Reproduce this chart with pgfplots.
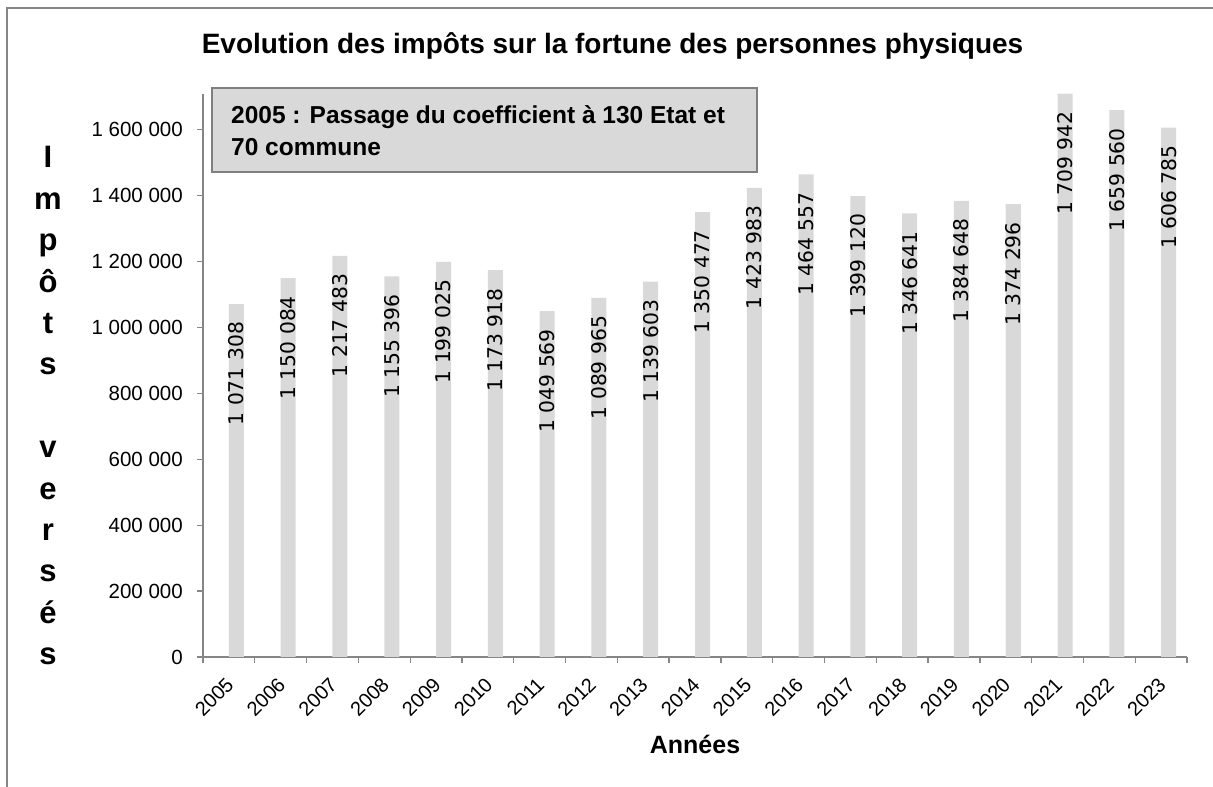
\documentclass[border=0pt]{standalone}
\usepackage{pgfplots}
\pgfplotsset{compat=1.18}
\usepackage{pgfplotstable}
\usepackage{fontspec}
\setmainfont{Liberation Sans}
\newfontfamily\dejavu{DejaVu Sans}
\definecolor{axisgray}{HTML}{868686}
\definecolor{bargray}{HTML}{D9D9D9}
\definecolor{boxborder}{HTML}{7F7F7F}

\pgfplotstableread[col sep=comma]{
x,y,lab
0,1071308,1 071 308
1,1150084,1 150 084
2,1217483,1 217 483
3,1155396,1 155 396
4,1199025,1 199 025
5,1173918,1 173 918
6,1049569,1 049 569
7,1089965,1 089 965
8,1139603,1 139 603
9,1350477,1 350 477
10,1423983,1 423 983
11,1464557,1 464 557
12,1399120,1 399 120
13,1346641,1 346 641
14,1384648,1 384 648
15,1374296,1 374 296
16,1709942,1 709 942
17,1659560,1 659 560
18,1606785,1 606 785
}\datatable

\begin{document}
\begin{tikzpicture}[x=1pt,y=1pt]
\path[use as bounding box] (0,0) rectangle (1213,787);
\draw[axisgray, line width=2pt] (7,0) -- (7,779) -- (1213,779);
\begin{axis}[
  at={(203pt,130pt)}, anchor=south west,
  scale only axis, width=984pt, height=563.4pt,
  xmin=-0.5, xmax=18.5, ymin=0, ymax=1710000,
  clip=false,
  axis x line*=bottom, axis y line*=left,
  axis line style={axisgray, line width=1.3pt, -},
  every outer x axis line/.append style={-},
  every outer y axis line/.append style={-},
  tick align=outside,
  major tick length=6pt,
  tick style={axisgray, line width=1.3pt},
  xtick={-0.5,0.5,...,18.5},
  xticklabels={},
  extra x ticks={0,1,...,18},
  extra x tick labels={2005,2006,2007,2008,2009,2010,2011,2012,2013,2014,2015,2016,2017,2018,2019,2020,2021,2022,2023},
  extra x tick style={major tick length=0pt, tick style={draw=none}},
  xticklabel style={xshift=-4pt, yshift=-19pt, rotate=45, anchor=north east, inner sep=0pt, font=\fontsize{20}{24}\selectfont},
  ytick={0,200000,...,1600000},
  scaled y ticks=false,
  yticklabel style={font=\fontsize{20.5}{24}\selectfont, anchor=east, inner sep=0pt, xshift=-14pt},
  /pgf/number format/.cd, fixed, precision=0, 1000 sep={\ }, assume math mode=true,
]
\addplot[ybar, bar width=0.29, bar shift=0.145, fill=bargray, draw=none,
  nodes near coords, point meta=explicit symbolic,
  every node near coord/.append style={xshift=7.5pt, rotate=90, anchor=east, inner sep=0pt, outer xsep=18pt, text=black, font=\dejavu\fontsize{20.3}{24}\selectfont}]
  table[x=x, y=y, meta=lab]{\datatable};
\end{axis}
\node[font=\bfseries\fontsize{28}{32}\selectfont, anchor=base] at (612.5, 733) {Evolution des impôts sur la fortune des personnes physiques};
\node[font=\bfseries\fontsize{25}{30}\selectfont, anchor=base] at (695, 33) {Années};
\foreach \l/\k in {I/0,m/1,p/2,ô/3,t/4,s/5,v/7,e/8,r/9,s/10,é/11,s/12}{
  \node[font=\bfseries\fontsize{31}{36}\selectfont, anchor=base, inner sep=0pt] at (48, 619-41.4*\k) {\l};
}
\draw[boxborder, line width=2pt, fill=bargray] (212,699) rectangle (757,615);
\node[anchor=base west, inner sep=0pt, font=\bfseries\fontsize{24.5}{29}\selectfont] at (231, 663) {2005 : Passage du coefficient à 130 Etat et};
\node[anchor=base west, inner sep=0pt, font=\bfseries\fontsize{24.5}{29}\selectfont] at (231, 631) {70 commune};
\end{tikzpicture}
\end{document}
